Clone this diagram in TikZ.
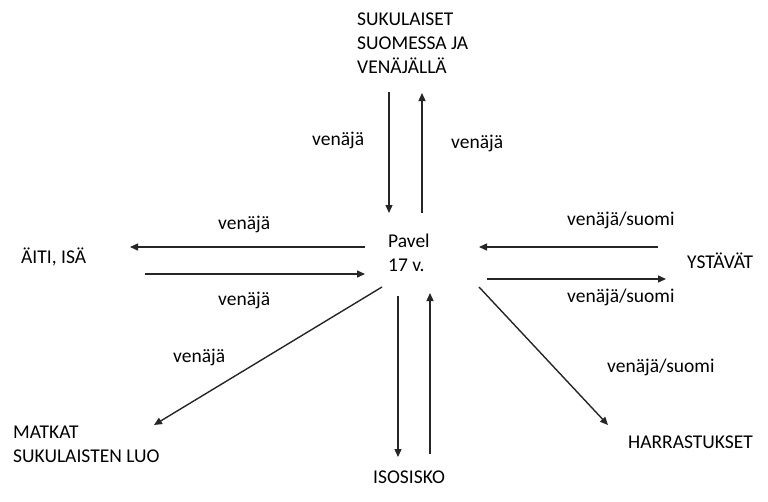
\documentclass[tikz,border=0pt]{standalone}
\usepackage{fontspec}
\setmainfont{Carlito}
\usetikzlibrary{arrows.meta}

\begin{document}
\begin{tikzpicture}[
    x=1pt, y=-1pt,
    font=\fontsize{19.5}{24}\selectfont,
    place/.style={inner sep=0pt, anchor=base west, align=left},
    lang/.style={inner sep=0pt, anchor=base west},
    arr/.style={-{Triangle[length=8pt, width=7pt]}, line width=1.4pt, black!85}
]
\useasboundingbox (0,0) rectangle (768,501);

% ---------------- Persons and places ----------------
\node[place] (pavel) at (388,271) {Pavel\\17 v.};
\node[place] (suku) at (357,73) {SUKULAISET\\SUOMESSA JA\\VENÄJÄLLÄ};
\node[place] (vanhemmat) at (21,263) {ÄITI, ISÄ};
\node[place] (ystavat) at (687,268) {YSTÄVÄT};
\node[place] (matkat) at (13,462) {MATKAT\\SUKULAISTEN LUO};
\node[place] (isosisko) at (373,483) {ISOSISKO};
\node[place] (harrastukset) at (628,448) {HARRASTUKSET};

% ---------------- Languages ----------------
\node[lang] (l_suku_in) at (312,145) {venäjä};
\node[lang] (l_suku_out) at (451,148) {venäjä};
\node[lang] (l_vanh_out) at (218,229) {venäjä};
\node[lang] (l_vanh_in) at (218,305) {venäjä};
\node[lang] (l_yst_out) at (567,225) {venäjä/suomi};
\node[lang] (l_yst_in) at (567,302) {venäjä/suomi};
\node[lang] (l_matkat) at (173,362) {venäjä};
\node[lang] (l_harr) at (607,372) {venäjä/suomi};

% ---------------- Arrow ends ----------------
\coordinate (suku_a) at (389,92);   \coordinate (suku_b) at (389,213);
\coordinate (suku_c) at (422,213);  \coordinate (suku_d) at (422,93);
\coordinate (vanh_a) at (365,247);  \coordinate (vanh_b) at (130,247);
\coordinate (vanh_c) at (145,274);  \coordinate (vanh_d) at (365,274);
\coordinate (yst_a) at (658,247);   \coordinate (yst_b) at (479,247);
\coordinate (yst_c) at (487,279);   \coordinate (yst_d) at (666,279);
\coordinate (matk_a) at (382,287);  \coordinate (matk_b) at (154,425);
\coordinate (harr_a) at (479,287);  \coordinate (harr_b) at (608,425);
\coordinate (sisko_a) at (398,296); \coordinate (sisko_b) at (398,457);
\coordinate (sisko_c) at (430,454); \coordinate (sisko_d) at (430,293);

% ---------------- Arrows ----------------
\draw[arr] (suku_a) -- (suku_b);
\draw[arr] (suku_c) -- (suku_d);
\draw[arr] (vanh_a) -- (vanh_b);
\draw[arr] (vanh_c) -- (vanh_d);
\draw[arr] (yst_a) -- (yst_b);
\draw[arr] (yst_c) -- (yst_d);
\draw[arr] (matk_a) -- (matk_b);
\draw[arr] (harr_a) -- (harr_b);
\draw[arr] (sisko_a) -- (sisko_b);
\draw[arr] (sisko_c) -- (sisko_d);

\end{tikzpicture}
\end{document}
